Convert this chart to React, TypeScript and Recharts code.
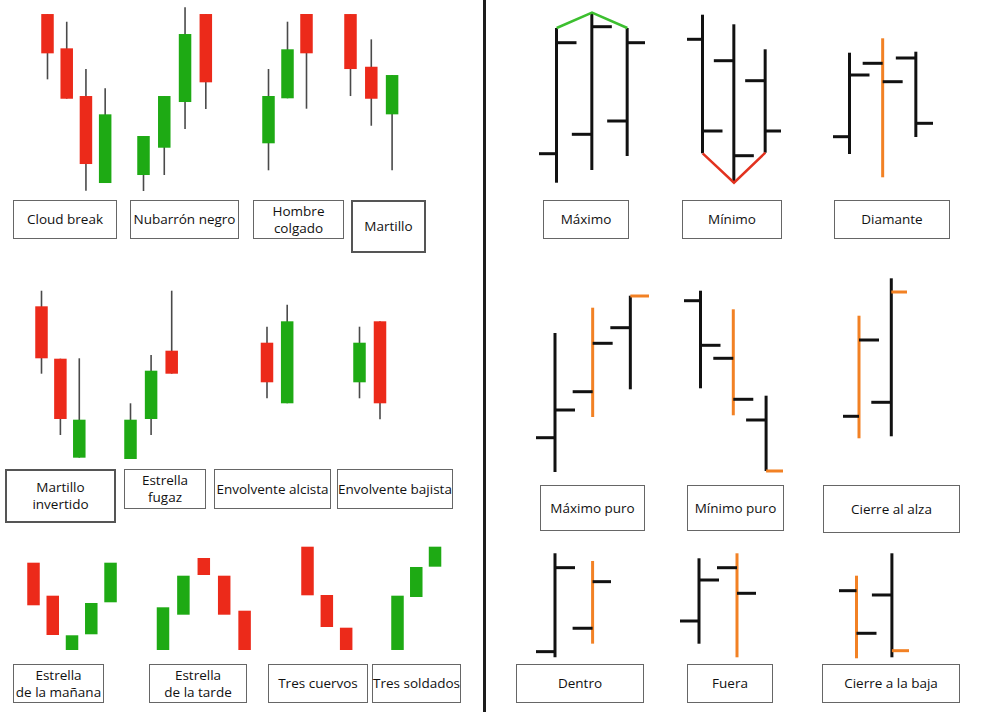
import React from "react";
import { ComposedChart, Bar, Line, XAxis, YAxis } from "recharts";

// price units: higher = further up the picture (0..712)
type Candle = { o: number; h: number; l: number; c: number };

const cloudBreak: Candle[] = [
  { o: 698, h: 698, l: 632.7, c: 658.7 },
  { o: 663.7, h: 690.3, l: 613.3, c: 613.3 },
  { o: 616, h: 643, l: 521.3, c: 548 },
  { o: 529, h: 623.7, l: 529, c: 597.7 },
];
const nubarronNegro: Candle[] = [
  { o: 537, h: 576, l: 521, c: 576 },
  { o: 564.3, h: 616, l: 537, c: 616 },
  { o: 610, h: 704.7, l: 583, c: 678 },
  { o: 698, h: 698, l: 603, c: 629.7 },
];
const hombreColgado: Candle[] = [
  { o: 568.7, h: 643, l: 541.7, c: 616 },
  { o: 613.7, h: 690.3, l: 613.7, c: 662.7 },
  { o: 698, h: 698, l: 603.3, c: 658.7 },
];
const martillo: Candle[] = [
  { o: 698, h: 698, l: 616, c: 643 },
  { o: 645.3, h: 672.7, l: 586.3, c: 613.3 },
  { o: 597.7, h: 637, l: 541.7, c: 637 },
];
const martilloInvertido: Candle[] = [
  { o: 405.7, h: 421.3, l: 338.3, c: 353.7 },
  { o: 353.3, h: 353.3, l: 277, c: 293 },
  { o: 254.3, h: 353.7, l: 254.3, c: 292.3 },
];
const estrellaFugaz: Candle[] = [
  { o: 253, h: 308.7, l: 253, c: 292.3 },
  { o: 293, h: 357, l: 277, c: 341.3 },
  { o: 361.3, h: 421.3, l: 338.3, c: 338.3 },
];
const envolventeAlcista: Candle[] = [
  { o: 369.3, h: 385.3, l: 313.7, c: 329.7 },
  { o: 308.7, h: 407.3, l: 308.7, c: 390.7 },
];
const envolventeBajista: Candle[] = [
  { o: 329.7, h: 385.3, l: 313.7, c: 369.3 },
  { o: 390.7, h: 390.7, l: 292.7, c: 308.7 },
];
const estrellaManana: Candle[] = [
  { o: 149.3, h: 149.3, l: 106.7, c: 106.7 },
  { o: 116.3, h: 116.3, l: 77, c: 77 },
  { o: 62, h: 76.7, l: 62, c: 76.7 },
  { o: 77.7, h: 109, l: 77.7, c: 109 },
  { o: 109.7, h: 149.3, l: 109.7, c: 149.3 },
];
const estrellaTarde: Candle[] = [
  { o: 62, h: 104.7, l: 62, c: 104.7 },
  { o: 97.3, h: 136.3, l: 97.3, c: 136.3 },
  { o: 154, h: 154, l: 137, c: 137 },
  { o: 136.3, h: 136.3, l: 97.3, c: 97.3 },
  { o: 101.3, h: 101.3, l: 62, c: 62 },
];
const tresCuervos: Candle[] = [
  { o: 165.3, h: 165.3, l: 116.7, c: 116.7 },
  { o: 117, h: 117, l: 85, c: 85 },
  { o: 84.3, h: 84.3, l: 62, c: 62 },
];
const tresSoldados: Candle[] = [
  { o: 62, h: 116.3, l: 62, c: 116.3 },
  { o: 115, h: 145, l: 115, c: 145 },
  { o: 145.3, h: 165.3, l: 145.3, c: 165.3 },
];

// OHLC bars
const maximo: Candle[] = [
  { o: 558.3, h: 684, l: 529.3, c: 669.3 },
  { o: 577.7, h: 699.3, l: 542, c: 685.3 },
  { o: 591, h: 684, l: 556, c: 669.3 },
];
const minimo: Candle[] = [
  { o: 672.7, h: 697.3, l: 558.7, c: 581 },
  { o: 651.3, h: 687.7, l: 529.3, c: 556.3 },
  { o: 631.3, h: 662.7, l: 559.3, c: 581 },
];
const diamante: Candle[] = [
  { o: 575.3, h: 659.3, l: 558, c: 637 },
  { o: 648.7, h: 673.7, l: 534.7, c: 630.3 },
  { o: 654, h: 660.3, l: 575, c: 588.7 },
];
const maximoPuro: Candle[] = [
  { o: 274.3, h: 379, l: 240, c: 302 },
  { o: 320.3, h: 404.3, l: 295, c: 368.7 },
  { o: 384.3, h: 416.3, l: 322.7, c: 416 },
];
const minimoPuro: Candle[] = [
  { o: 411.3, h: 421.3, l: 323.7, c: 366.7 },
  { o: 353.7, h: 402.7, l: 296.7, c: 312.7 },
  { o: 292, h: 316.3, l: 241, c: 241 },
];
const cierreAlza: Candle[] = [
  { o: 295.7, h: 396.3, l: 273.7, c: 372 },
  { o: 309.7, h: 433.7, l: 275.7, c: 420 },
];
const dentro: Candle[] = [
  { o: 60.3, h: 158.7, l: 54.7, c: 144.3 },
  { o: 83.7, h: 151, l: 68.3, c: 130.3 },
];
const fuera: Candle[] = [
  { o: 91, h: 153.7, l: 68.3, c: 132 },
  { o: 144.3, h: 158.7, l: 54.7, c: 118.7 },
];
const cierreBaja: Candle[] = [
  { o: 121.3, h: 136.3, l: 53.7, c: 78.7 },
  { o: 117, h: 158.7, l: 54.7, c: 61.3 },
];

// which part of each bar is highlighted in orange
const maximoPuroAccent = ["", "stem", "close"];
const minimoPuroAccent = ["", "stem", "close"];
const cierreAlzaAccent = ["stem", "close"];
const diamanteAccent = ["", "stem", ""];
const dentroAccent = ["", "stem"];
const fueraAccent = ["", "stem"];
const cierreBajaAccent = ["stem", "close"];

const RED = "#ec2a1a";
const GREEN = "#1eaa14";
const WICK = "#4a4a4a";
const INK = "#111111";
const ORANGE = "#f28124";
const BODY_W = 12.5;
const TICK = 20;
const H = 712;

function CandleShape(props: any) {
  const { x, y, width, height, payload } = props;
  const cx = x + width / 2;
  const top = Math.min(y, y + height);
  const bot = Math.max(y, y + height);
  const { o, c, h, l } = payload;
  const span = h - l || 1;
  const toY = (v: number) => top + ((h - v) / span) * (bot - top);
  const bTop = toY(Math.max(o, c));
  const bBot = toY(Math.min(o, c));
  return (
    <g>
      {h > Math.max(o, c) || l < Math.min(o, c) ? (
        <line x1={cx} x2={cx} y1={top} y2={bot} stroke={WICK} strokeWidth={1.6} />
      ) : null}
      <rect x={cx - BODY_W / 2} y={bTop} width={BODY_W} height={Math.max(1, bBot - bTop)} fill={c >= o ? GREEN : RED} />
    </g>
  );
}

function OhlcShape(props: any) {
  const { x, y, width, height, payload } = props;
  const cx = x + width / 2;
  const top = Math.min(y, y + height);
  const bot = Math.max(y, y + height);
  const { o, c, h, l, accent } = payload;
  const span = h - l || 1;
  const toY = (v: number) => top + ((h - v) / span) * (bot - top);
  const oy = toY(o);
  const cy = toY(c);
  return (
    <g>
      <line x1={cx} x2={cx} y1={top} y2={bot} stroke={accent === "stem" ? ORANGE : INK} strokeWidth={3} />
      <line x1={cx - TICK} x2={cx} y1={oy} y2={oy} stroke={INK} strokeWidth={3} />
      <line x1={cx} x2={cx + TICK} y1={cy} y2={cy} stroke={accent === "close" ? ORANGE : INK} strokeWidth={3} />
    </g>
  );
}

type PatternProps = {
  data: Candle[];
  left: number;
  width: number;
  kind: "candle" | "bar";
  accent?: string[];
  link?: "h" | "l";
};

function Pattern({ data, left, width, kind, accent, link }: PatternProps) {
  const rows = data.map((d, i) => ({ ...d, i, accent: accent ? accent[i] : "" }));
  return (
    <div style={{ position: "absolute", left, top: 0 }}>
      <ComposedChart width={width} height={H} data={rows} margin={{ top: 0, right: 0, bottom: 0, left: 0 }} barCategoryGap={0}>
        <XAxis dataKey="i" type="category" hide />
        <YAxis type="number" domain={[0, H]} hide allowDataOverflow />
        <Bar
          dataKey={(d: any) => [d.l, d.h]}
          shape={kind === "candle" ? <CandleShape /> : <OhlcShape />}
          isAnimationActive={false}
        />
        {link ? (
          <Line
            dataKey={link}
            stroke={link === "h" ? "#3cbf2f" : "#e2321f"}
            strokeWidth={2.5}
            dot={false}
            type="linear"
            isAnimationActive={false}
          />
        ) : null}
      </ComposedChart>
    </div>
  );
}

function Label({ text, left, top, width, height, heavy }: any) {
  return (
    <div
      style={{
        position: "absolute",
        left,
        top,
        width,
        height,
        boxSizing: "border-box",
        border: heavy ? "2.5px solid #555" : "1.5px solid #666",
        background: "#fff",
        display: "flex",
        alignItems: "center",
        justifyContent: "center",
        textAlign: "center",
        fontFamily: "'Open Sans', sans-serif",
        fontSize: 13.5,
        fontWeight: 500,
        lineHeight: "17px",
        color: "#111",
        whiteSpace: "pre-line",
      }}
    >
      {text}
    </div>
  );
}

export default function App() {
  return (
    <div style={{ position: "absolute", left: 0, top: 0, width: 999, height: 712, background: "#fff", overflow: "hidden" }}>
      {/* candlesticks */}
      <Pattern data={cloudBreak} left={37.7} width={76.9} kind="candle" />
      <Pattern data={nubarronNegro} left={132.8} width={83.1} kind="candle" />
      <Pattern data={hombreColgado} left={259.3} width={57} kind="candle" />
      <Pattern data={martillo} left={339.8} width={62.4} kind="candle" />
      <Pattern data={martilloInvertido} left={31.5} width={56.7} kind="candle" />
      <Pattern data={estrellaFugaz} left={120} width={61.8} kind="candle" />
      <Pattern data={envolventeAlcista} left={257.4} width={40.4} kind="candle" />
      <Pattern data={envolventeBajista} left={348.5} width={41} kind="candle" />
      <Pattern data={estrellaManana} left={24.2} width={96.3} kind="candle" />
      <Pattern data={estrellaTarde} left={152.8} width={102} kind="candle" />
      <Pattern data={tresCuervos} left={297.6} width={58} kind="candle" />
      <Pattern data={tresSoldados} left={388} width={56.3} kind="candle" />

      {/* OHLC bars */}
      <Pattern data={maximo} left={539.3} width={106} kind="bar" link="h" />
      <Pattern data={minimo} left={687.3} width={94} kind="bar" link="l" />
      <Pattern data={diamante} left={833.1} width={99.5} kind="bar" accent={diamanteAccent} />
      <Pattern data={maximoPuro} left={535.9} width={113} kind="bar" accent={maximoPuroAccent} />
      <Pattern data={minimoPuro} left={684.3} width={98.4} kind="bar" accent={minimoPuroAccent} />
      <Pattern data={cierreAlza} left={842.9} width={64.6} kind="bar" accent={cierreAlzaAccent} />
      <Pattern data={dentro} left={535.9} width={75.2} kind="bar" accent={dentroAccent} />
      <Pattern data={fuera} left={680.3} width={76} kind="bar" accent={fueraAccent} />
      <Pattern data={cierreBaja} left={838.6} width={70.8} kind="bar" accent={cierreBajaAccent} />

      <div style={{ position: "absolute", left: 482.5, top: 0, width: 3, height: 712, background: "#1c1c1c" }} />

      <Label text="Cloud break" left={13} top={200} width={104} height={39} />
      <Label text="Nubarrón negro" left={130} top={200} width={109} height={39} />
      <Label text={"Hombre\ncolgado"} left={253} top={200} width={91} height={39} />
      <Label text="Martillo" left={351} top={200} width={75} height={53} heavy />
      <Label text={"Martillo\ninvertido"} left={5} top={469} width={111} height={54} heavy />
      <Label text={"Estrella\nfugaz"} left={124} top={469} width={82} height={40} />
      <Label text="Envolvente alcista" left={214} top={469} width={117} height={40} />
      <Label text="Envolvente bajista" left={337} top={469} width={116} height={40} />
      <Label text={"Estrella\nde la mañana"} left={13} top={664} width={91} height={39} />
      <Label text={"Estrella\nde la tarde"} left={149} top={664} width={98} height={39} />
      <Label text="Tres cuervos" left={268} top={664} width={100} height={39} />
      <Label text="Tres soldados" left={372} top={664} width={89} height={39} />

      <Label text="Máximo" left={543} top={200} width={86} height={39} />
      <Label text="Mínimo" left={682} top={200} width={100} height={39} />
      <Label text="Diamante" left={834} top={200} width={116} height={39} />
      <Label text="Máximo puro" left={540} top={485} width={105} height={46} />
      <Label text="Mínimo puro" left={687} top={485} width={97} height={46} />
      <Label text="Cierre al alza" left={823} top={485} width={137} height={48} />
      <Label text="Dentro" left={516} top={664} width={128} height={39} />
      <Label text="Fuera" left={687} top={664} width={86} height={39} />
      <Label text="Cierre a la baja" left={822} top={664} width={138} height={39} />
    </div>
  );
}
